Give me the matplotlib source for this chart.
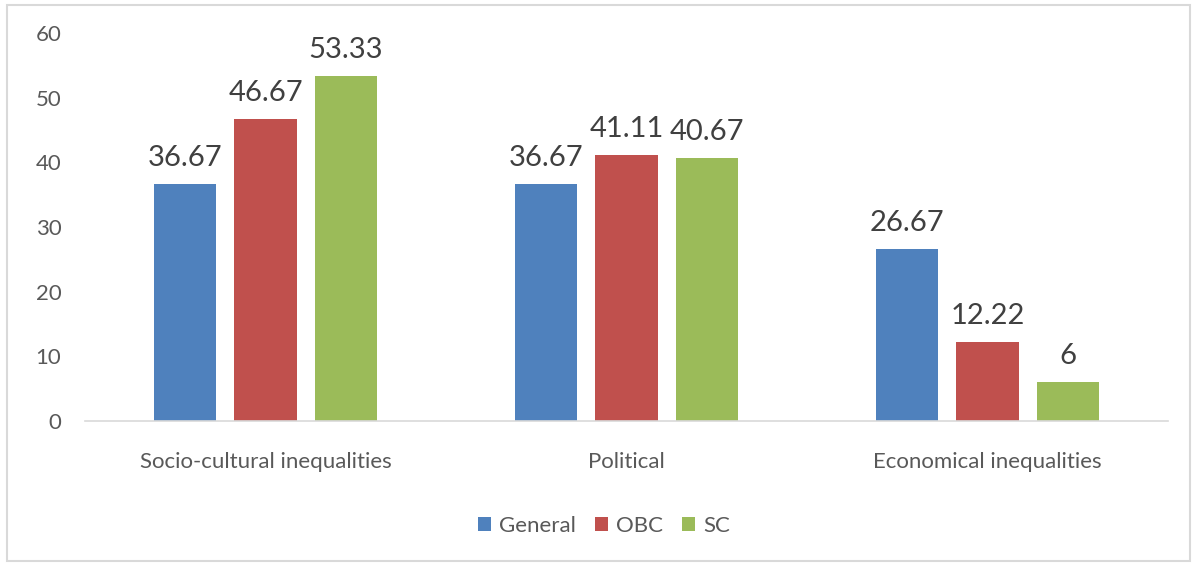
import numpy as np
import matplotlib.pyplot as plt
from matplotlib.patches import Rectangle

categories = ["Socio-cultural inequalities", "Political", "Economical inequalities"]
series_names = ["General", "OBC", "SC"]
general = [36.67, 36.67, 26.67]
obc = [46.67, 41.11, 12.22]
sc = [53.33, 40.67, 6]
value_labels = [
    ["36.67", "36.67", "26.67"],
    ["46.67", "41.11", "12.22"],
    ["53.33", "40.67", "6"],
]

colors = ["#4F81BD", "#C0504D", "#9BBB59"]
text_color = "#595959"

plt.rcParams['font.family'] = ['Lato', 'DejaVu Sans']

fig = plt.figure(figsize=(11.96, 5.64), dpi=100)
ax = fig.add_axes([0.0711, 0.2535, 0.9055, 0.688])

x = np.arange(len(categories))
width = 0.172
step = 0.222
handles = []
for i, (vals, name) in enumerate(zip([general, obc, sc], series_names)):
    bars = ax.bar(x + (i - 1) * step, vals, width, color=colors[i], label=name)
    handles.append(bars)
    for b, lab in zip(bars, value_labels[i]):
        ax.text(b.get_x() + b.get_width() / 2, b.get_height() + 2.0, lab,
                ha='center', va='bottom', fontsize=21, color='#404040')

ax.set_xlim(-0.5, 2.5)
ax.set_ylim(0, 60)
ax.set_yticks(range(0, 61, 10))
ax.set_xticks(x)
ax.set_xticklabels(categories)
ax.tick_params(axis='y', length=0, pad=17, labelsize=16, labelcolor=text_color)
ax.tick_params(axis='x', length=0, pad=22, labelsize=16, labelcolor=text_color)
for s in ['top', 'right', 'left']:
    ax.spines[s].set_visible(False)
ax.spines['bottom'].set_color('#D9D9D9')
ax.spines['bottom'].set_linewidth(1.2)

leg = fig.legend(handles=handles, labels=series_names, loc='center',
                 bbox_to_anchor=(0.505, 0.068), ncol=3, frameon=False,
                 fontsize=16, handlelength=0.6, handleheight=0.6,
                 handletextpad=0.35, columnspacing=0.85)
for t in leg.get_texts():
    t.set_color(text_color)

fig.patches.append(Rectangle((7 / 1196, 3 / 564), 1183 / 1196, 556 / 564,
                             transform=fig.transFigure, fill=False,
                             edgecolor='#D9D9D9', linewidth=1.5))

fig.savefig("out.png", dpi=100)
